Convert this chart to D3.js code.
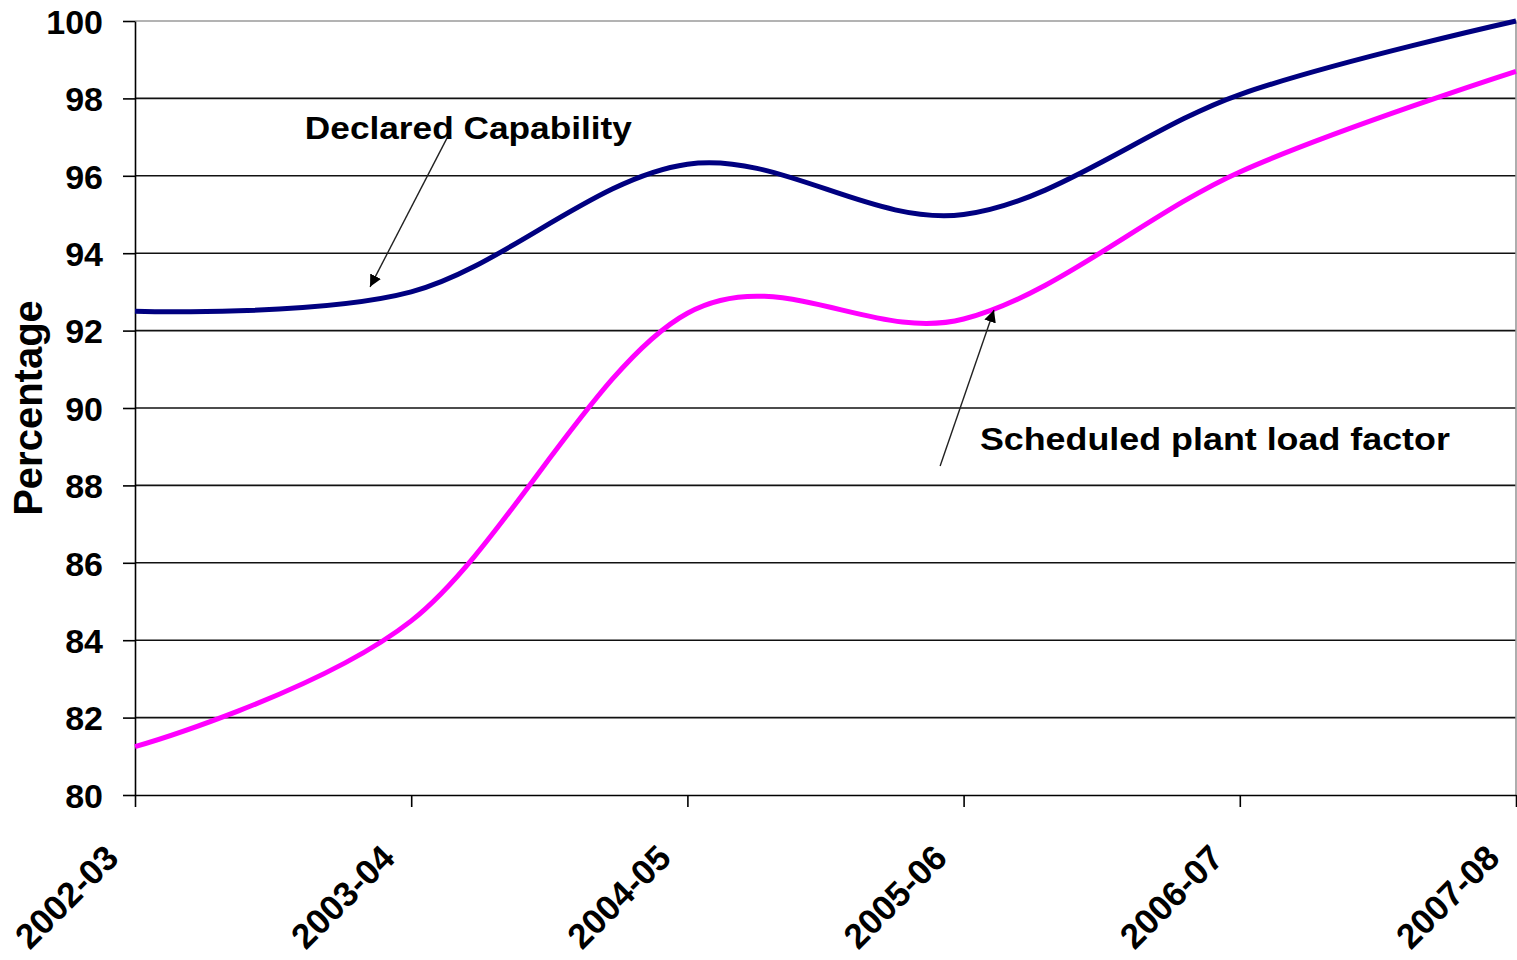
<!DOCTYPE html>
<html>
<head>
<meta charset="utf-8">
<script src="https://cdn.jsdelivr.net/npm/d3@7"></script>
<style>
  html, body { margin: 0; padding: 0; background: #fff; }
  svg { display: block; }
  text { font-family: "Liberation Sans", Arial, sans-serif; font-weight: bold; fill: #000; }
</style>
</head>
<body>
<svg id="chart" width="1517" height="960"></svg>
<script>
// Financial years on the category axis
const years = ["2002-03", "2003-04", "2004-05", "2005-06", "2006-07", "2007-08"];
// Declared capability (%)
const declaredCapability = [92.5, 93.0, 96.3, 95.0, 98.1, 100.0];
// Scheduled plant load factor (%)
const scheduledPLF = [81.25, 84.5, 92.45, 92.3, 96.1, 98.7];
// Value axis ticks
const yTicks = [80, 82, 84, 86, 88, 90, 92, 94, 96, 98, 100];

const svg = d3.select("#chart");
const plot = { left: 135, right: 1516, top: 21, bottom: 795 };

const x = d3.scalePoint().domain(years).range([plot.left, plot.right]);
// continuous position along the category axis, used for callouts
const xPos = d3.scaleLinear().domain([0, years.length - 1]).range([plot.left, plot.right]);
const y = d3.scaleLinear().domain([80, 100]).range([plot.bottom, plot.top]);

// horizontal gridlines
svg.append("g")
  .selectAll("line")
  .data(yTicks.filter(v => v > 80 && v < 100))
  .join("line")
  .attr("x1", plot.left).attr("x2", plot.right)
  .attr("y1", d => y(d)).attr("y2", d => y(d))
  .attr("stroke", "#111").attr("stroke-width", 1.6);

// plot area frame (top and right edges)
svg.append("path")
  .attr("d", `M${plot.left},${y(100)}H${plot.right}V${plot.bottom}`)
  .attr("fill", "none").attr("stroke", "#9a9a9a").attr("stroke-width", 1.6);

// value axis
const yAxis = svg.append("g")
  .attr("transform", `translate(${plot.left},0)`)
  .call(d3.axisLeft(y).tickValues(yTicks).tickSize(12).tickPadding(20).tickSizeOuter(0));
yAxis.select(".domain").attr("stroke", "#000").attr("stroke-width", 1.6);
yAxis.selectAll(".tick line").attr("stroke", "#000").attr("stroke-width", 1.6);
yAxis.selectAll(".tick text")
  .attr("font-size", 34).attr("font-family", "Liberation Sans, Arial, sans-serif")
  .attr("font-weight", "bold").attr("fill", "#000")
  .attr("dy", "0.36em");

// category axis
const xAxis = svg.append("g")
  .attr("transform", `translate(0,${plot.bottom})`)
  .call(d3.axisBottom(x).tickSize(12).tickSizeOuter(0));
xAxis.select(".domain").attr("stroke", "#000").attr("stroke-width", 1.6);
xAxis.selectAll(".tick line").attr("stroke", "#000").attr("stroke-width", 1.6);
xAxis.selectAll(".tick text")
  .attr("font-size", 35).attr("font-family", "Liberation Sans, Arial, sans-serif")
  .attr("font-weight", "bold").attr("fill", "#000")
  .attr("text-anchor", "end")
  .attr("dy", null).attr("y", null)
  .attr("transform", "translate(-15,65) rotate(-45)");

// value axis title
svg.append("text")
  .attr("transform", `translate(42,${(plot.top + plot.bottom) / 2}) rotate(-90)`)
  .attr("text-anchor", "middle")
  .attr("font-size", 40)
  .text("Percentage");

// smoothed series lines
const line = d3.line()
  .x((d, i) => x(years[i]))
  .y(d => y(d))
  .curve(d3.curveCardinal.tension(0));

svg.append("path")
  .datum(scheduledPLF)
  .attr("d", line)
  .attr("fill", "none").attr("stroke", "#ff00ff").attr("stroke-width", 5)
  .attr("stroke-linejoin", "round");

svg.append("path")
  .datum(declaredCapability)
  .attr("d", line)
  .attr("fill", "none").attr("stroke", "#000080").attr("stroke-width", 5)
  .attr("stroke-linejoin", "round");

// callout arrows
svg.append("defs").append("marker")
  .attr("id", "arrowhead")
  .attr("viewBox", "0 0 10 10")
  .attr("refX", 10).attr("refY", 5)
  .attr("markerWidth", 12).attr("markerHeight", 12)
  .attr("markerUnits", "userSpaceOnUse")
  .attr("orient", "auto")
  .append("path")
  .attr("d", "M0,0L10,5L0,10Z")
  .attr("fill", "#000");

const callouts = [
  { label: "Declared Capability", tx: 0.615, tv: 96.95, len: 327,
    from: [1.13, 96.98], to: [0.851, 93.13] },
  { label: "Scheduled plant load factor", tx: 3.059, tv: 88.91, len: 470,
    from: [2.915, 88.5], to: [3.11, 92.53] }
];

callouts.forEach(c => {
  svg.append("line")
    .attr("x1", xPos(c.from[0])).attr("y1", y(c.from[1]))
    .attr("x2", xPos(c.to[0])).attr("y2", y(c.to[1]))
    .attr("stroke", "#222").attr("stroke-width", 1.4)
    .attr("marker-end", "url(#arrowhead)");
  svg.append("text")
    .attr("x", xPos(c.tx)).attr("y", y(c.tv))
    .attr("font-size", 31)
    .attr("textLength", c.len).attr("lengthAdjust", "spacingAndGlyphs")
    .text(c.label);
});
</script>
</body>
</html>
